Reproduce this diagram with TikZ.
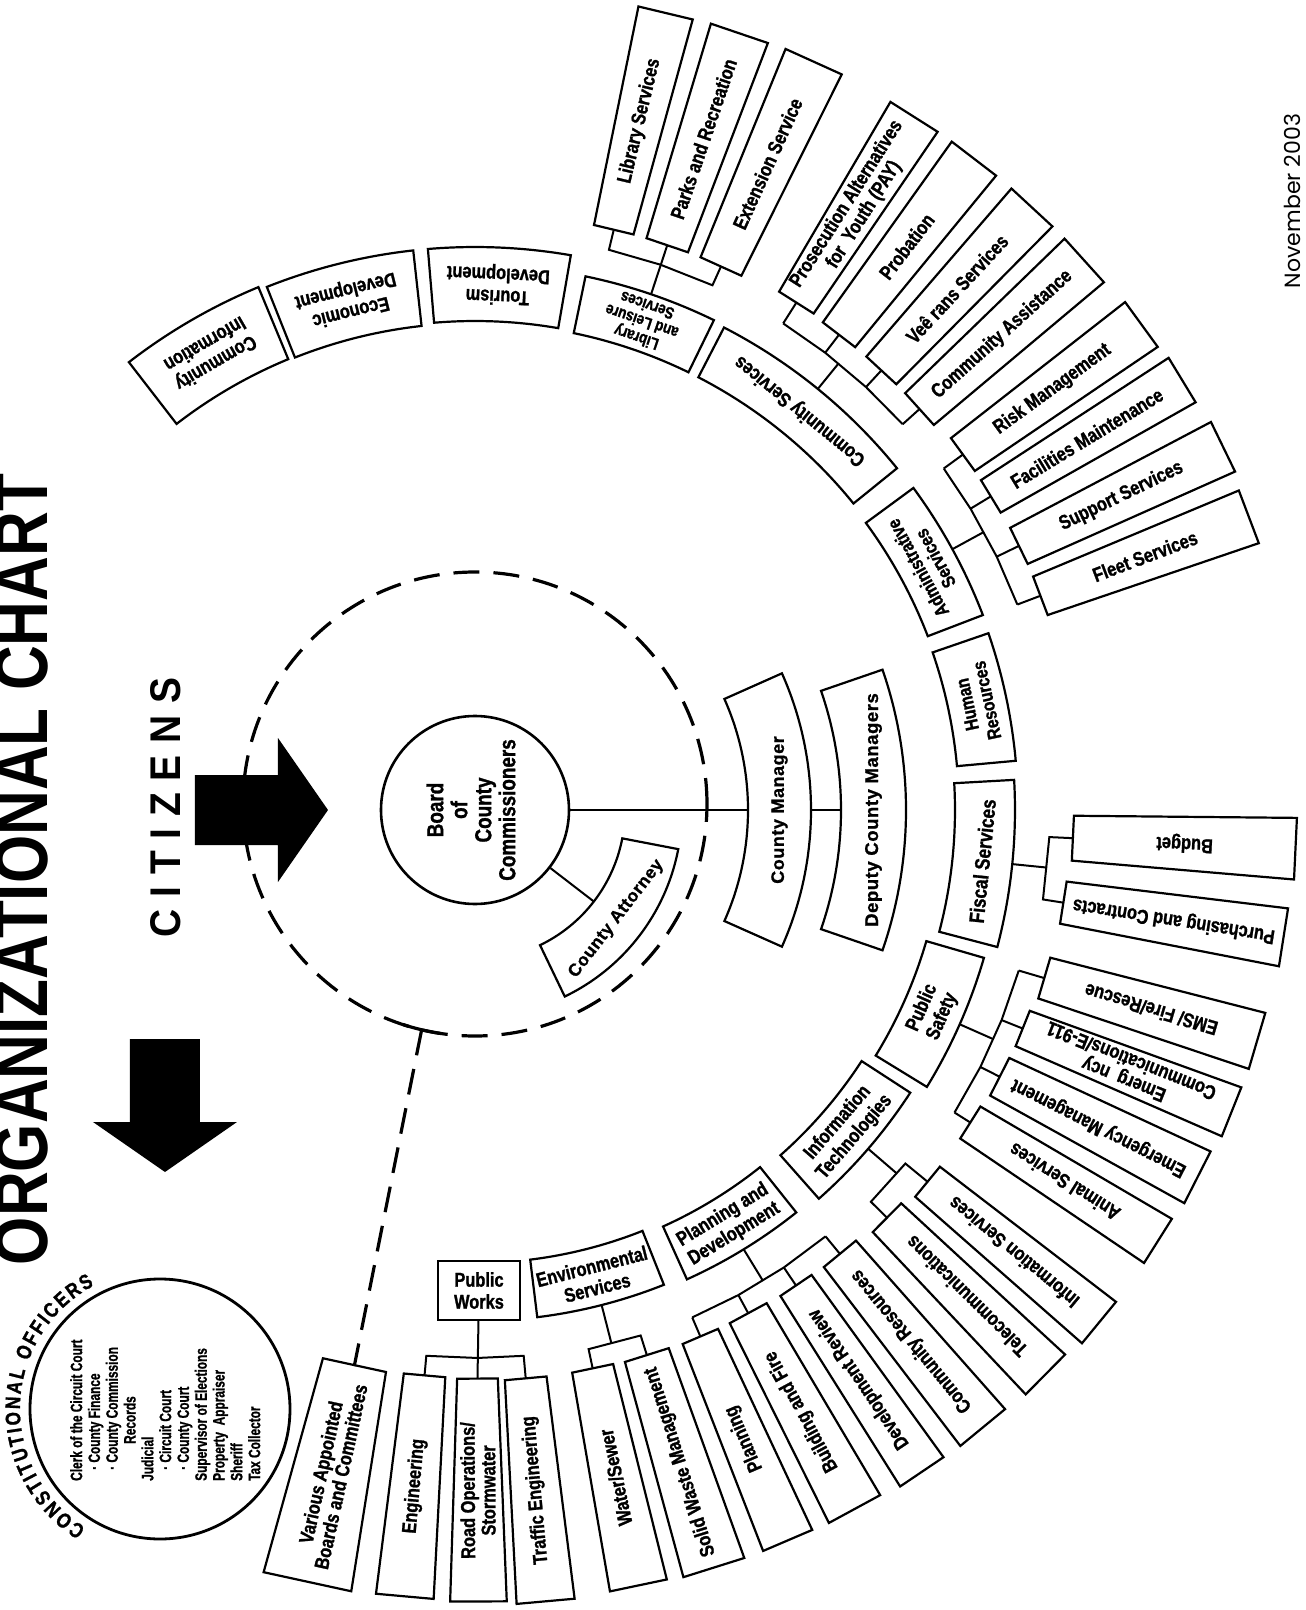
\documentclass[tikz,border=0pt]{standalone}
\usepackage{fontspec}
\usepackage{graphicx}
\setmainfont{Liberation Sans}
\newfontfamily\condbf{Liberation Sans}[FakeStretch=0.82, FakeBold=1.2]
\newfontfamily\narrowbf{Liberation Sans}[FakeStretch=0.72, FakeBold=1]
\newfontfamily\widebf{Liberation Sans}[LetterSpace=3, FakeBold=1]
\newfontfamily\datefont{Poppins}
\usetikzlibrary{calc,decorations.text}

\tikzset{
  box/.style={draw, line width=2.2pt},
  link/.style={line width=2pt},
  lbl/.style={font=\condbf\bfseries\fontsize{20}{22}\selectfont, align=center, inner sep=0pt},
  leaf/.style={lbl, font=\condbf\bfseries\fontsize{20}{20.5}\selectfont},
  dashline/.style={line width=3.2pt, dash pattern=on 26pt off 14pt},
  bigarrow/.pic={\fill (0,35) -- (83,35) -- (83,72) -- (133,0) -- (83,-72) -- (83,-35) -- (0,-35) -- cycle;}
}

% ring box: [node opts]{name}{from}{to}{inner r}{outer r}{text turn}{text}
\newcommand\ringbox[8][]{%
  \draw[box] (#3:#5) arc[start angle=#3, end angle=#4, radius=#5pt]
    -- (#4:#6) arc[start angle=#4, end angle=#3, radius=#6pt] -- cycle;
  \node[lbl, rotate={(#3+#4)/2+#7}, #1] (#2) at ({(#3+#4)/2}:{(#5+#6)/2}) {#8};
  \coordinate (#2-in) at ({(#3+#4)/2}:#5);
  \coordinate (#2-out) at ({(#3+#4)/2}:#6);
}
% leaf box with straight ends
\newcommand\leafbox[8][]{%
  \draw[box] (#3:#5) -- (#4:#5) -- (#4:#6) -- (#3:#6) -- cycle;
  \node[leaf, rotate={(#3+#4)/2+#7}, #1] (#2) at ({(#3+#4)/2}:{(#5+#6)/2}) {#8};
  \coordinate (#2-in) at ({(#3+#4)/2}:#5);
}

\begin{document}
\begin{tikzpicture}[x=1pt, y=1pt]
\useasboundingbox (-475,-800) rectangle (831,810);
\coordinate (c) at (0,0);

% title, citizens, date
\node[rotate=90, anchor=south, inner sep=0pt] (title) at (-427,-59.5)
  {\resizebox{791pt}{53pt}{\bfseries ORGANIZATIONAL CHART}};
\node[rotate=90, inner sep=0pt] (citizens) at (-309.5,2.5)
  {\resizebox{259pt}{30pt}{\bfseries C\hspace{.3em}I\hspace{.3em}T\hspace{.3em}I\hspace{.3em}Z\hspace{.3em}E\hspace{.3em}N\hspace{.3em}S}};
\node[rotate=90, inner sep=0pt] (date) at (817.5,609)
  {\resizebox{174pt}{!}{\datefont November 2003}};

% board and dashed ring
\draw[dashline] (0,6) circle[radius=232pt];
\coordinate (dgap) at ($(0,6)+(-103.3:232)$);
\draw[line width=3.2pt] ($(0,6)+(-98.5:232)$) arc[start angle=-98.5, end angle=-108, radius=232pt];
\node[circle, draw, line width=2.6pt, minimum size=188pt, inner sep=0pt] (board) at (c) {};
\node[lbl, rotate=90, font=\condbf\bfseries\fontsize{23}{24}\selectfont] (boardtxt) at (-4,0) {Board\\of\\County\\Commissioners};
\pic at (-280,0) {bigarrow};
\pic[rotate=-90] at (-310,-229) {bigarrow};

% managers
\ringbox[font=\widebf\bfseries\fontsize{18}{20}\selectfont]{cman}{-24}{24}{273}{336}{90}{County Manager}
\ringbox[font=\widebf\bfseries\fontsize{18.5}{20}\selectfont]{dcm}{-19}{19}{366}{431}{90}{Deputy County Managers}
\ringbox[font=\widebf\bfseries\fontsize{17.5}{19}\selectfont]{catty}{-64.3}{-10.9}{150}{207}{90}{County Attorney}

% departments
\ringbox{cinfo}{112.5}{127.7}{488}{566}{90}{Community\\Information}
\ringbox{econ}{96.3}{111.7}{487}{563}{90}{Economic\\Development}
\ringbox{tour}{80.2}{94.8}{489}{563}{90}{Tourism\\Development}
\ringbox[font=\condbf\bfseries\fontsize{16.5}{17}\selectfont]{libl}{64}{78.3}{487}{545}{90}{Library\\and Leisure\\Services}
\ringbox{csrv}{39}{62.7}{487}{543}{90}{Community Services}
\ringbox[font=\condbf\bfseries\fontsize{19}{20}\selectfont]{admin}{21}{36.3}{485}{544}{90}{Administrative\\Services}
\ringbox[font=\condbf\bfseries\fontsize{19}{20}\selectfont]{hr}{5.2}{19}{484}{543}{90}{Human\\Resources}
\ringbox[font=\condbf\bfseries\fontsize{21}{22}\selectfont]{fisc}{-14.7}{3.2}{480}{540}{90}{Fiscal Services}
\ringbox{psaf}{-31.5}{-16.2}{470}{530}{90}{Public\\Safety}
\ringbox{itec}{-48.5}{-33}{461}{519}{90}{Information\\Technologies}
\ringbox{pdev}{-65.7}{-51.4}{457}{515}{90}{Planning and\\Development}
\ringbox{envs}{-83}{-68.3}{453}{511}{90}{Environmental\\Services}
\node[box, lbl, minimum width=82pt, minimum height=59pt] (pw) at (4,-480.5) {Public\\Works};

% library and leisure services
\leafbox{lsrv}{74.6}{78.5}{597}{820}{0}{Library Services}
\leafbox{parks}{69.1}{73.3}{597}{821}{0}{Parks and Recreation}
\leafbox{extn}{63.5}{67.8}{597}{822}{0}{Extension Service}
% community services
\leafbox{pay}{55.7}{59.6}{601}{821}{0}{Prosecution Alternatives\\for\ \ Youth (PAY)}
\leafbox{prob}{50.6}{54.5}{599}{821}{0}{Probation}
\leafbox{vets}{45.3}{49.2}{599}{821}{0}{Veê rans Services}
\leafbox{cass}{40}{44.1}{599}{821}{0}{Community Assistance}
% administrative services
\leafbox{risk}{34.15}{38}{604}{825}{0}{Risk Management}
\leafbox{facm}{29.5}{33.1}{604}{828}{0}{Facilities Maintenance}
\leafbox{supp}{24}{27.8}{605}{832}{0}{Support Services}
\leafbox{fleet}{18.8}{22.7}{605}{828}{0}{Fleet Services}
% fiscal services
\leafbox{budg}{-4.85}{-0.55}{599}{822}{180}{Budget}
\leafbox{purch}{-11}{-6.9}{596}{819}{180}{Purchasing and Contracts}
% public safety
\leafbox{ems}{-18.5}{-14.4}{594}{816}{180}{EMS/ Fire/Rescue}
\leafbox{ecom}{-23.6}{-19.9}{590}{815}{180}{Emerg\ \ ncy\\Communications/E-911}
\leafbox{emgm}{-29}{-24.9}{589}{811}{180}{Emergency Management}
\leafbox{anim}{-34.1}{-30.4}{586}{808}{180}{Animal Services}
% information technologies
\leafbox{isrv}{-41.3}{-37.5}{586}{808}{180}{Information Services}
\leafbox{tele}{-46.7}{-42.7}{580}{803}{180}{Telecommunications}
% planning and development
\leafbox{cres}{-52.65}{-48.5}{575}{800}{180}{Community Resources}
\leafbox{drev}{-57.85}{-54.1}{574}{799}{180}{Development Review}
\leafbox{bfire}{-63.6}{-59.4}{573}{796}{180}{Building and Fire}
\leafbox{plan}{-68.75}{-64.9}{573}{795}{180}{Planning}
% environmental services
\leafbox{swm}{-74.8}{-70.2}{572}{795}{180}{Solid Waste Management}
\leafbox{wsew}{-80.2}{-76}{571}{793}{180}{Water/Sewer}
% public works
\leafbox{traf}{-87}{-82.8}{571}{795}{180}{Traffic Engineering}
\leafbox{road}{-91.8}{-87.7}{569}{792}{180}{Road Operations/\\Stormwater}
\leafbox{engr}{-97.2}{-93}{568}{790}{180}{Engineering}
\leafbox{vab}{-105.5}{-99}{569}{791}{180}{Various Appointed\\Boards and Committees}

% connectors
\draw[link] (board) -- (cman-in);
\draw[link] (board) -- (catty-in);
\draw[link] (cman-out) -- (dcm-in);
\draw[dashline] (dgap) -- (vab-in);

\draw[link] (libl-out) -- (parks-in);
\draw[link] (lsrv-in) -- ($(c)!576pt!(lsrv-in)$) -- ($(c)!576pt!(parks-in)$) -- ($(c)!576pt!(extn-in)$) -- (extn-in);

\draw[link] (csrv-out) -- ($(c)!576pt!(csrv-out)$);
\draw[link] ($(c)!576pt!(pay-in)$) foreach \n in {prob,vets,cass} { -- ($(c)!576pt!(\n-in)$) };
\foreach \n in {pay,prob,vets,cass} \draw[link] (\n-in) -- ($(c)!576pt!(\n-in)$);

\draw[link] (admin-out) -- ($(c)!580pt!(admin-out)$);
\draw[link] ($(c)!580pt!(risk-in)$) foreach \n in {facm,supp,fleet} { -- ($(c)!580pt!(\n-in)$) };
\foreach \n in {risk,facm,supp,fleet} \draw[link] (\n-in) -- ($(c)!580pt!(\n-in)$);

\draw[link] (fisc-out) -- ($(c)!575pt!(fisc-out)$);
\draw[link] (budg-in) -- ($(c)!575pt!(budg-in)$) -- ($(c)!575pt!(purch-in)$) -- (purch-in);

\draw[link] (psaf-out) -- ($(c)!567pt!(psaf-out)$);
\draw[link] ($(c)!567pt!(ems-in)$) foreach \n in {ecom,emgm,anim} { -- ($(c)!567pt!(\n-in)$) };
\foreach \n in {ems,ecom,emgm,anim} \draw[link] (\n-in) -- ($(c)!567pt!(\n-in)$);

\draw[link] (itec-out) -- ($(c)!557pt!(itec-out)$);
\draw[link] (tele-in) -- ($(c)!557pt!(tele-in)$) -- ($(c)!557pt!(isrv-in)$) -- (isrv-in);

\draw[link] (pdev-out) -- ($(c)!552pt!(pdev-out)$);
\draw[link] ($(c)!552pt!(plan-in)$) foreach \n in {bfire,drev,cres} { -- ($(c)!552pt!(\n-in)$) };
\foreach \n in {plan,bfire,drev,cres} \draw[link] (\n-in) -- ($(c)!552pt!(\n-in)$);

\draw[link] (envs-out) -- ($(c)!551pt!(envs-out)$);
\draw[link] (wsew-in) -- ($(c)!551pt!(wsew-in)$) -- ($(c)!551pt!(swm-in)$) -- (swm-in);

\draw[link] (pw) -- (road-in);
\draw[link] (engr-in) -- ($(c)!548pt!(engr-in)$) -- ($(c)!548pt!(road-in)$) -- ($(c)!548pt!(traf-in)$) -- (traf-in);

% constitutional officers
\node[circle, draw, line width=2.8pt, minimum size=260pt, inner sep=0pt] (co) at (-315,-599) {};
\begingroup
\condbf\bfseries\fontsize{21}{21}\selectfont
\path[decorate, decoration={text along path, text align={fit to path},
  text={CONSTITUTIONAL OFFICERS}}]
  (co.center) ++(238:140) arc[start angle=238, end angle=118, radius=140pt];
\endgroup
\node[rotate=90, anchor=north west, inner sep=0pt, align=left,
  font=\narrowbf\bfseries\fontsize{16.5}{17.8}\selectfont] (cotext) at (-405,-671)
  {Clerk of the Circuit Court\\
   \hspace*{11pt}· County Finance\\
   \hspace*{11pt}· County Commission\\
   \hspace*{37pt}Records\\
   Judicial\\
   \hspace*{11pt}· Circuit Court\\
   \hspace*{11pt}· County Court\\
   Supervisor of Elections\\
   Property\ \ Appraiser\\
   Sheriff\\
   Tax Collector};
\end{tikzpicture}
\end{document}
